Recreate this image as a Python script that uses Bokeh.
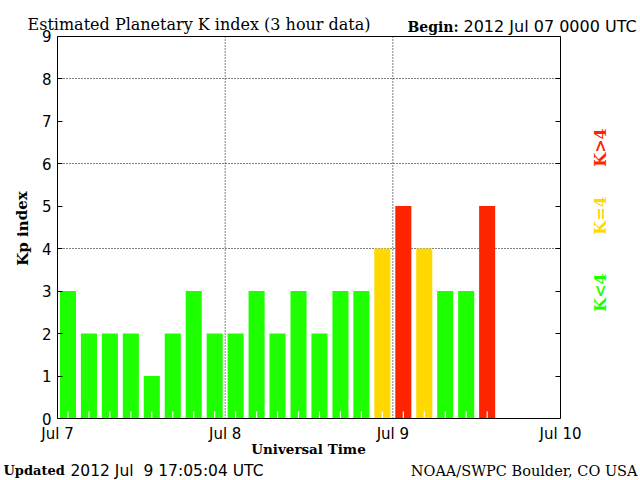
from bokeh.plotting import figure
from bokeh.models import Label, FixedTicker, LinearAxis, Range1d
from bokeh.embed import file_html
from bokeh.resources import INLINE

# ---- data ----
kp_values = [3, 2, 2, 2, 1, 2, 3, 2,
             2, 3, 2, 3, 2, 3, 3, 4,
             5, 4, 3, 3, 5]
bar_start_hours = [0, 3, 6, 9, 12, 15, 18, 21,
                   24, 27, 30, 33, 36, 39, 42, 45,
                   48, 51, 54, 57, 60]
day_ticks = [0, 24, 48, 72]
day_labels = ["Jul 7", "Jul 8", "Jul 9", "Jul 10"]
kp_ticks = [0, 1, 2, 3, 4, 5, 6, 7, 8, 9]
kp_grid = [4, 6, 8]
day_grid = [24, 48]
X0, X1 = 0, 72
Y0, Y1 = 0, 9

GREEN = "#1eff00"
YELLOW = "#ffd800"
RED = "#ff2400"

bar_centers = [h + 1.5 for h in bar_start_hours]
bar_colors = [GREEN if v < 4 else (YELLOW if v == 4 else RED) for v in kp_values]

SANS = "DejaVu Sans"
SERIF = "DejaVu Serif"

# ---- layout (pixels) ----
W, H = 640, 480
PX_L, PX_R, PX_T, PX_B = 57, 560, 35.5, 418
sxf = (PX_R - PX_L) / (X1 - X0)
syf = (PX_B - PX_T) / (Y1 - Y0)
x_range = Range1d(X0 - PX_L / sxf, X0 + (W - PX_L) / sxf)
y_range = Range1d(Y0 - (H - PX_B) / syf, Y0 + PX_B / syf)
TICK_IN = 7 / syf  # white in-bar tick length, in data units

p = figure(width=W, height=H, min_border=0,
           x_range=x_range, y_range=y_range,
           x_axis_location=None, y_axis_location=None,
           output_backend="svg", toolbar_location=None)
p.background_fill_color = "white"
p.border_fill_color = "white"
p.outline_line_color = None
p.grid.visible = False

# dotted grid lines (under the bars)
p.segment(x0=X0, x1=X1, y0=kp_grid, y1=kp_grid,
          line_color="black", line_dash="1 2", line_width=1)
p.segment(x0=day_grid, x1=day_grid, y0=Y0, y1=Y1,
          line_color="black", line_dash="1 2", line_width=1)

p.vbar(x=bar_centers, width=2.3, top=kp_values, bottom=0,
       fill_color=bar_colors, line_color=None)

# white 3-hour tick marks over the bars
p.segment(x0=bar_centers, x1=bar_centers, y0=Y0, y1=Y0 + TICK_IN,
          line_color="white", line_width=1.2)


def style_axis(ax):
    ax.axis_line_color = "black"
    ax.axis_line_width = 1
    ax.major_tick_line_color = "black"
    ax.major_label_text_font = SANS
    ax.major_label_text_font_size = "15px"
    ax.major_label_text_color = "black"


# bottom axis
xa = LinearAxis(ticker=FixedTicker(ticks=day_ticks, minor_ticks=[]),
                fixed_location=Y0, bounds=(X0, X1))
style_axis(xa)
xa.major_label_overrides = {t: l for t, l in zip(day_ticks, day_labels)}
xa.major_tick_in = 0
xa.major_tick_out = 0
xa.major_label_standoff = 6
p.add_layout(xa, "below")

# top border
xt = LinearAxis(ticker=FixedTicker(ticks=[], minor_ticks=[]),
                fixed_location=Y1, bounds=(X0, X1))
style_axis(xt)
xt.major_label_text_color = None
p.add_layout(xt, "above")

# left axis
ya = LinearAxis(ticker=FixedTicker(ticks=kp_ticks, minor_ticks=[]),
                fixed_location=X0, bounds=(Y0, Y1))
style_axis(ya)
ya.major_tick_in = 5
ya.major_tick_out = 0
ya.major_label_standoff = 6
p.add_layout(ya, "left")

# right axis (ticks only)
yr = LinearAxis(ticker=FixedTicker(ticks=kp_ticks, minor_ticks=[]),
                fixed_location=X1, bounds=(Y0, Y1))
style_axis(yr)
yr.major_tick_in = 5
yr.major_tick_out = 0
yr.major_label_text_color = None
p.add_layout(yr, "right")


def lab(text, px, py, font=SANS, size="15px", bold=False, color="black",
        align="left", baseline="alphabetic", angle=0.0):
    p.add_layout(Label(x=px, y=H - py, x_units="screen", y_units="screen",
                       text=text, text_font=font, text_font_size=size,
                       text_font_style="bold" if bold else "normal",
                       text_color=color, text_align=align,
                       text_baseline=baseline, angle=angle))


lab("Estimated Planetary K index (3 hour data)", 27, 24, font=SERIF, size="16px")
lab("Begin:", 407, 26, font=SERIF, size="14px", bold=True)
lab("2012 Jul 07 0000 UTC", 463, 26, size="16px")
lab("Updated", 3, 470, font=SERIF, size="13px", bold=True)
lab("2012 Jul \u00a09 17:05:04 UTC", 70, 470, size="15.5px")
lab("NOAA/SWPC Boulder, CO USA", 637, 470, font=SERIF, size="14.5px", align="right")
lab("Universal Time", 308, 448, font=SERIF, size="13.5px", bold=True,
    align="center", baseline="middle")
lab("Kp index", 22, 228, font=SERIF, size="15px", bold=True,
    align="center", baseline="middle", angle=1.5708)
lab("K>4", 600, 147, font=SERIF, size="16px", bold=True, color=RED,
    align="center", baseline="middle", angle=1.5708)
lab("K=4", 600, 215, font=SERIF, size="16px", bold=True, color=YELLOW,
    align="center", baseline="middle", angle=1.5708)
lab("K<4", 600, 292, font=SERIF, size="16px", bold=True, color=GREEN,
    align="center", baseline="middle", angle=1.5708)

open("out.html", "w").write(file_html(p, INLINE))
